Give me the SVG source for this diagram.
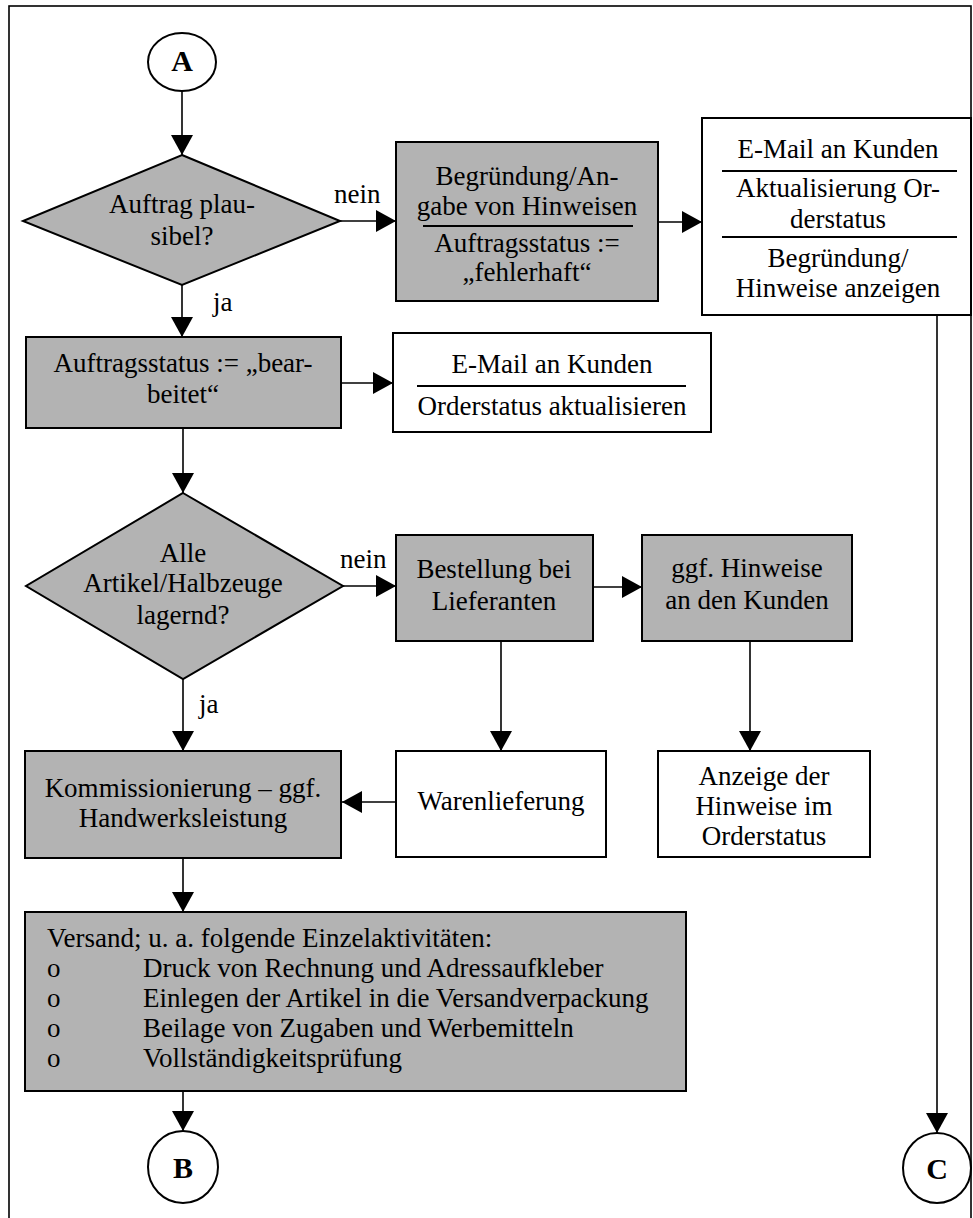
<svg xmlns="http://www.w3.org/2000/svg" width="973" height="1218" viewBox="0 0 973 1218">
<style>
text{font-family:"Liberation Serif","Times New Roman",serif;font-size:27px;fill:#000}
.c{text-anchor:middle}
.b{font-weight:bold;font-size:30px}
.g{fill:#b3b3b3;stroke:#000;stroke-width:2}
.w{fill:#fff;stroke:#000;stroke-width:2}
.sep{stroke:#000;stroke-width:2}
.con{stroke:#000;stroke-width:1.6;fill:none;marker-end:url(#ah)}
</style>
<defs>
<marker id="ah" markerUnits="userSpaceOnUse" markerWidth="20" markerHeight="22" refX="20" refY="11" orient="auto">
<path d="M0,0 L20,11 L0,22 z" fill="#000"/>
</marker>
</defs>
<rect x="9" y="6" width="962" height="1230" fill="#fff" stroke="#000" stroke-width="1.6"/>

<g id="connectors">
<line class="con" x1="182" y1="91" x2="182" y2="155"/>
<line class="con" x1="340" y1="221" x2="396" y2="221"/>
<line class="con" x1="658" y1="222" x2="702" y2="222"/>
<line class="con" x1="182" y1="285" x2="182" y2="337"/>
<line class="con" x1="341" y1="383" x2="393" y2="383"/>
<line class="con" x1="183" y1="428" x2="183" y2="493"/>
<line class="con" x1="343" y1="586" x2="396" y2="586"/>
<line class="con" x1="593" y1="587" x2="642" y2="587"/>
<line class="con" x1="501" y1="641" x2="501" y2="751"/>
<line class="con" x1="750" y1="641" x2="750" y2="751"/>
<line class="con" x1="183" y1="679" x2="183" y2="751"/>
<line class="con" x1="396" y1="802" x2="342" y2="802"/>
<line class="con" x1="183" y1="858" x2="183" y2="912"/>
<line class="con" x1="183" y1="1091" x2="183" y2="1131"/>
<line class="con" x1="937" y1="315" x2="937" y2="1133"/>
<text x="334" y="203">nein</text>
<text x="213" y="311">ja</text>
<text x="340" y="568">nein</text>
<text x="199" y="713">ja</text>
</g>

<g id="A">
<ellipse cx="182" cy="62" rx="34" ry="29" class="w"/>
<text x="182" y="71" class="c b">A</text>
</g>

<g id="d1">
<polygon points="182,155 340,221 182,285 23,221" class="g"/>
<text x="182" y="213" class="c">Auftrag plau-</text>
<text x="182" y="245" class="c">sibel?</text>
</g>

<g id="begruendung">
<rect x="396" y="142" width="262" height="159" class="g"/>
<text x="527" y="185" class="c">Begründung/An-</text>
<text x="527" y="215" class="c">gabe von Hinweisen</text>
<line x1="423" y1="226" x2="633" y2="226" class="sep"/>
<text x="527" y="252" class="c">Auftragsstatus :=</text>
<text x="527" y="281" class="c">„fehlerhaft“</text>
</g>

<g id="email1">
<rect x="702" y="118" width="269" height="197" class="w"/>
<text x="838" y="158" class="c">E-Mail an Kunden</text>
<line x1="722" y1="171" x2="957" y2="171" class="sep"/>
<text x="838" y="197" class="c">Aktualisierung Or-</text>
<text x="838" y="228" class="c">derstatus</text>
<line x1="722" y1="237" x2="957" y2="237" class="sep"/>
<text x="838" y="267" class="c">Begründung/</text>
<text x="838" y="297" class="c">Hinweise anzeigen</text>
</g>

<g id="bearbeitet">
<rect x="26" y="337" width="315" height="91" class="g"/>
<text x="183" y="372" class="c">Auftragsstatus := „bear-</text>
<text x="183" y="403" class="c">beitet“</text>
</g>

<g id="email2">
<rect x="393" y="333" width="318" height="99" class="w"/>
<text x="552" y="373" class="c">E-Mail an Kunden</text>
<line x1="417" y1="386" x2="686" y2="386" class="sep"/>
<text x="552" y="415" class="c">Orderstatus aktualisieren</text>
</g>

<g id="d2">
<polygon points="183,493 343,586 183,679 26,586" class="g"/>
<text x="183" y="562" class="c">Alle</text>
<text x="183" y="592" class="c">Artikel/Halbzeuge</text>
<text x="183" y="624" class="c">lagernd?</text>
</g>

<g id="bestellung">
<rect x="396" y="535" width="197" height="106" class="g"/>
<text x="494" y="578" class="c">Bestellung bei</text>
<text x="494" y="610" class="c">Lieferanten</text>
</g>

<g id="hinweise">
<rect x="642" y="535" width="210" height="106" class="g"/>
<text x="747" y="577" class="c">ggf. Hinweise</text>
<text x="747" y="609" class="c">an den Kunden</text>
</g>

<g id="warenlieferung">
<rect x="396" y="751" width="210" height="106" class="w"/>
<text x="501" y="810" class="c">Warenlieferung</text>
</g>

<g id="anzeige">
<rect x="658" y="751" width="212" height="106" class="w"/>
<text x="764" y="785" class="c">Anzeige der</text>
<text x="764" y="815" class="c">Hinweise im</text>
<text x="764" y="845" class="c">Orderstatus</text>
</g>

<g id="kommissionierung">
<rect x="25" y="751" width="316" height="107" class="g"/>
<text x="183" y="797" class="c">Kommissionierung – ggf.</text>
<text x="183" y="827" class="c">Handwerksleistung</text>
</g>

<g id="versand">
<rect x="25" y="912" width="661" height="179" class="g"/>
<text x="47" y="947">Versand; u. a. folgende Einzelaktivitäten:</text>
<text x="47" y="977">o</text><text x="143" y="977">Druck von Rechnung und Adressaufkleber</text>
<text x="47" y="1007">o</text><text x="143" y="1007">Einlegen der Artikel in die Versandverpackung</text>
<text x="47" y="1037">o</text><text x="143" y="1037">Beilage von Zugaben und Werbemitteln</text>
<text x="47" y="1067">o</text><text x="143" y="1067">Vollständigkeitsprüfung</text>
</g>

<g id="B">
<ellipse cx="183" cy="1167" rx="35" ry="36" class="w"/>
<text x="183" y="1178" class="c b">B</text>
</g>

<g id="C">
<ellipse cx="937" cy="1168" rx="34" ry="35" class="w"/>
<text x="937" y="1179" class="c b">C</text>
</g>
</svg>
